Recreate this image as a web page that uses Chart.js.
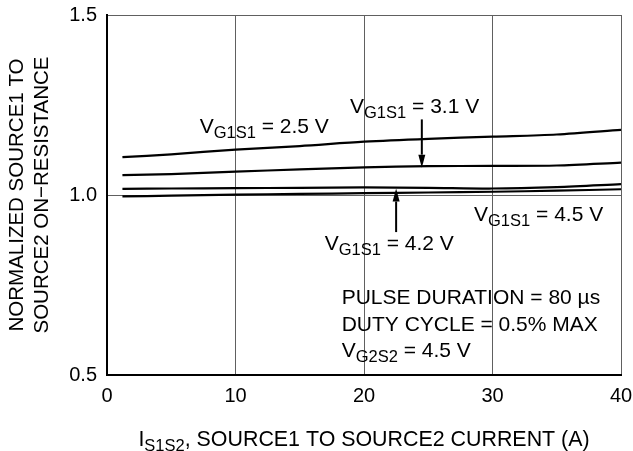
<!DOCTYPE html>
<html><head><meta charset="utf-8">
<script src="https://cdn.jsdelivr.net/npm/chart.js@4/dist/chart.umd.min.js"></script>
<style>html,body{margin:0;padding:0;background:#fff}canvas{display:block}</style>
</head><body>
<canvas id="c" width="633" height="451"></canvas>
<script>
// ---- data ----
const current = [1.2, 5, 10, 15, 20, 25, 30, 35, 40];
const rds25 = [1.105, 1.113, 1.126, 1.136, 1.148, 1.156, 1.162, 1.168, 1.181];
const rds31 = [1.055, 1.058, 1.065, 1.071, 1.077, 1.080, 1.081, 1.082, 1.090];
const rds42 = [1.017, 1.018, 1.019, 1.020, 1.021, 1.020, 1.018, 1.022, 1.030];
const rds45 = [0.996, 0.998, 1.001, 1.003, 1.005, 1.007, 1.009, 1.012, 1.016];
const seriesNames = ['VG1S1 = 2.5 V', 'VG1S1 = 3.1 V', 'VG1S1 = 4.2 V', 'VG1S1 = 4.5 V'];
const xTicks = [0, 10, 20, 30, 40];
const yTicks = [0.5, 1.0, 1.5];
const xTitleParts = [['I', 0], ['S1S2', 1], [', SOURCE1 TO SOURCE2 CURRENT (A)', 0]];
const yTitleLines = ['NORMALIZED SOURCE1 TO', 'SOURCE2 ON\u2212RESISTANCE'];

// annotation labels (data coordinates: left x, baseline y)
const labels = [
  {parts: [['V',0],['G1S1',1],[' = 2.5 V',0]], x: 7.21, y: 1.172},
  {parts: [['V',0],['G1S1',1],[' = 3.1 V',0]], x: 18.91, y: 1.228},
  {parts: [['V',0],['G1S1',1],[' = 4.5 V',0]], x: 28.56, y: 0.928},
  {parts: [['V',0],['G1S1',1],[' = 4.2 V',0]], x: 16.94, y: 0.848},
  {parts: [['PULSE DURATION = 80 \u00b5s',0]], x: 18.26, y: 0.697},
  {parts: [['DUTY CYCLE = 0.5% MAX',0]], x: 18.26, y: 0.623},
  {parts: [['V',0],['G2S2',1],[' = 4.5 V',0]], x: 18.26, y: 0.549}
];
// arrows: x, from y, to y (tip)
const arrows = [
  {x: 24.5, y0: 1.21, y1: 1.076},
  {x: 22.5, y0: 0.897, y1: 1.018}
];

const FONT = '"Liberation Sans", Arial, sans-serif';
const MAIN = 21, SUB = 16.5, SUBDY = 5;

function drawRich(ctx, parts, x, y, align, main) {
  let w = 0;
  for (const [t, s] of parts) { ctx.font = (s ? SUB : main) + 'px ' + FONT; w += ctx.measureText(t).width; }
  let cx = align === 'center' ? x - w / 2 : x;
  ctx.textAlign = 'left'; ctx.textBaseline = 'alphabetic'; ctx.fillStyle = '#000';
  for (const [t, s] of parts) {
    ctx.font = (s ? SUB : main) + 'px ' + FONT;
    ctx.fillText(t, cx, y + (s ? SUBDY : 0));
    cx += ctx.measureText(t).width;
  }
}

const annot = {
  id: 'annot',
  afterDatasetsDraw(chart) {
    const ctx = chart.ctx, xs = chart.scales.x, ys = chart.scales.y;
    ctx.save();
    for (const l of labels) drawRich(ctx, l.parts, xs.getPixelForValue(l.x), ys.getPixelForValue(l.y), 'left', MAIN);
    ctx.strokeStyle = '#000'; ctx.fillStyle = '#000'; ctx.lineWidth = 2;
    for (const a of arrows) {
      const px = xs.getPixelForValue(a.x), p0 = ys.getPixelForValue(a.y0), p1 = ys.getPixelForValue(a.y1);
      const dir = p1 > p0 ? 1 : -1, hl = 13, hw = 3.5;
      ctx.beginPath(); ctx.moveTo(px, p0); ctx.lineTo(px, p1 - dir * hl); ctx.stroke();
      ctx.beginPath(); ctx.moveTo(px - hw, p1 - dir * hl); ctx.lineTo(px + hw, p1 - dir * hl); ctx.lineTo(px, p1); ctx.closePath(); ctx.fill();
    }
    const ca = chart.chartArea;
    drawRich(ctx, xTitleParts, (ca.left + ca.right) / 2, 446, 'center', 21.4);
    ctx.restore();
  }
};

const mk = (d) => ({data: current.map((x, i) => ({x, y: d[i]})), borderColor: '#000', borderWidth: 2.2, pointRadius: 0, tension: 0.3, fill: false});
const tickFont = {family: FONT, size: 20};
const noPad = s => { s.paddingLeft = 0; s.paddingRight = 0; s.paddingTop = 0; s.paddingBottom = 0; };

new Chart(document.getElementById('c'), {
  type: 'line',
  data: {datasets: [rds25, rds31, rds42, rds45].map((d, i) => Object.assign(mk(d), {label: seriesNames[i]}))},
  options: {
    responsive: false, animation: false,
    layout: {padding: {top: 15, right: 12, left: 0, bottom: 0}},
    plugins: {legend: {display: false}, tooltip: {enabled: false}},
    scales: {
      x: {
        type: 'linear', min: 0, max: 40,
        afterBuildTicks: s => { s.ticks = xTicks.map(v => ({value: v})); },
        afterFit: s => { s.height = 76; noPad(s); },
        ticks: {font: tickFont, color: '#000', padding: 9, maxRotation: 0},
        grid: {color: '#606060', lineWidth: 1, drawTicks: false},
        border: {color: '#000', width: 2}
      },
      y: {
        min: 0.5, max: 1.5,
        afterBuildTicks: s => { s.ticks = yTicks.map(v => ({value: v})); },
        afterFit: s => { s.width = 107; noPad(s); },
        ticks: {font: tickFont, color: '#000', padding: 10, callback: v => Number(v).toFixed(1)},
        grid: {color: '#606060', lineWidth: 1, drawTicks: false},
        border: {color: '#000', width: 2},
        title: {display: true, text: yTitleLines, font: {family: FONT, size: 20.5, lineHeight: 1.22}, color: '#000', padding: {top: 5, bottom: 0}}
      }
    }
  },
  plugins: [annot]
});
</script>
</body></html>
